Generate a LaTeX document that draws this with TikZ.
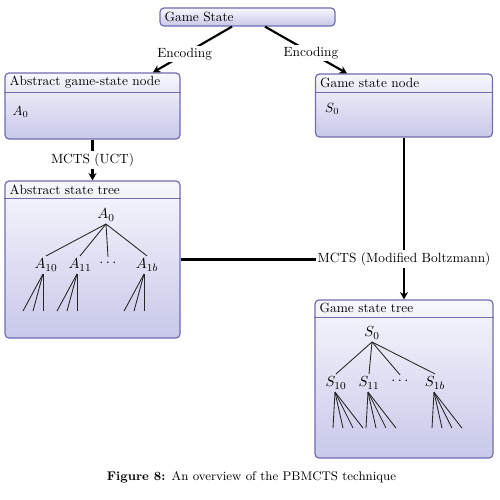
\documentclass[tikz,border=0pt]{standalone}
\usetikzlibrary{arrows.meta,calc}
\definecolor{bord}{RGB}{112,108,176}
\definecolor{lav}{RGB}{200,200,234}
\definecolor{lavtop}{RGB}{247,247,253}
\begin{document}
\begin{tikzpicture}[x=0.75pt,y=-0.75pt,
  box/.style={draw=bord, line width=0.9pt, rounded corners=3pt, top color=lavtop, bottom color=lav, inner sep=0pt},
  hdr/.style={anchor=west, inner sep=0pt},
  hline/.style={draw=bord, line width=0.9pt},
  arr/.style={line width=1.6pt, -{Stealth[length=5.5pt,width=6pt]}},
  conn/.style={line width=1.6pt},
  lbl/.style={fill=white, inner sep=1.5pt},
  tn/.style={inner sep=2pt, font=\fontsize{11}{13}\selectfont},
  te/.style={line width=0.65pt, draw=black!85}]
\useasboundingbox (0,0) rectangle (500,500);

% boxes
\node[box, minimum width=175*0.75pt, minimum height=18*0.75pt] (gs) at (247.5,17) {};
\node[hdr] (gst) at ($(gs.west)+(5,0)$) {Game State};

\node[box, minimum width=175*0.75pt, minimum height=66*0.75pt] (absnode) at (92.5,106) {};
\draw[hline] ($(absnode.north west)+(0,20)$) -- ($(absnode.north east)+(0,20)$);
\node[hdr] (absnodet) at ($(absnode.north west)+(5,10)$) {Abstract game-state node};
\node[hdr] (absnodeb) at ($(absnode.north west)+(8,40)$) {$A_0$};

\node[box, minimum width=177*0.75pt, minimum height=63*0.75pt] (gsnode) at (404,105.5) {};
\draw[hline] ($(gsnode.north west)+(0,19)$) -- ($(gsnode.north east)+(0,19)$);
\node[hdr] (gsnodet) at ($(gsnode.north west)+(5,10)$) {Game state node};
\node[hdr] (gsnodeb) at ($(gsnode.north west)+(10,36)$) {$S_0$};

\node[box, minimum width=175*0.75pt, minimum height=157*0.75pt] (abstree) at (92.5,259.5) {};
\draw[hline] ($(abstree.north west)+(0,18)$) -- ($(abstree.north east)+(0,18)$);
\node[hdr] (abstreet) at ($(abstree.north west)+(5,9)$) {Abstract state tree};

\node[box, minimum width=178*0.75pt, minimum height=158*0.75pt] (gstree) at (404,379) {};
\draw[hline] ($(gstree.north west)+(0,18)$) -- ($(gstree.north east)+(0,18)$);
\node[hdr] (gstreet) at ($(gstree.north west)+(5,9)$) {Game state tree};

% connectors
\draw[arr] ($(gs.south)+(-15.5,0)$) -- node[lbl,pos=0.6]{Encoding} ($(absnode.north)+(60.5,0)$);
\draw[arr] ($(gs.south)+(17.5,0)$) -- node[lbl,pos=0.56]{Encoding} ($(gsnode.north)+(-57,0)$);
\draw[arr] (absnode.south) -- node[lbl]{MCTS (UCT)} (abstree.north);
\draw[conn] (abstree.east) -- (abstree.east -| gsnode.south);
\draw[arr] (gsnode.south) -- node[lbl,pos=0.75]{MCTS (Modified Boltzmann)} (gstree.north);

% abstract tree
\node[tn] (A0) at (106,215) {$A_0$};
\node[tn] (A10) at (46,265) {$A_{10}$};
\node[tn] (A11) at (80,265) {$A_{11}$};
\node[tn] (Ad) at (108,263) {$\cdots$};
\node[tn] (A1b) at (147,265) {$A_{1b}$};
\foreach \c in {A10,A11,Ad,A1b} \draw[te] (A0.south) -- (\c.north);
\foreach \c in {A10,A11,A1b}
  \foreach \dx in {-20,-10,0}
    \draw[te] ($(\c.south)+(-3,0)$) -- ++(\dx,37);

% game state tree
\node[tn] (S0) at (372,333) {$S_0$};
\node[tn] (S10) at (336,383) {$S_{10}$};
\node[tn] (S11) at (369,383) {$S_{11}$};
\node[tn] (Sd) at (400,381) {$\cdots$};
\node[tn] (S1b) at (435,383) {$S_{1b}$};
\foreach \c in {S10,S11,Sd,S1b} \draw[te] (S0.south) -- (\c.north);
\foreach \c in {S10,S11,S1b}
  \foreach \dx in {-2,8,18,28}
    \draw[te] ($(\c.south)+(-1,0)$) -- ++(\dx,36);

% caption
\node (cap) at (251.5,477) {\fontsize{9.4}{11}\selectfont\textbf{Figure 8:}\enspace An overview of the PBMCTS technique};
\end{tikzpicture}
\end{document}
